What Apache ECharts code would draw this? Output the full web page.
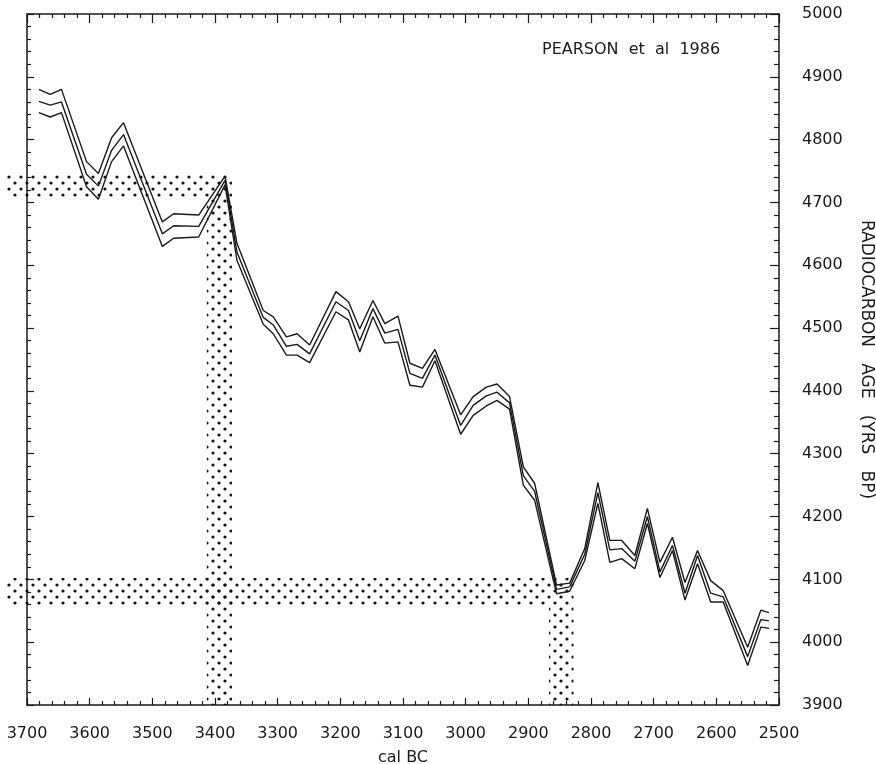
<!DOCTYPE html>
<html>
<head>
<meta charset="utf-8">
<script src="https://cdn.jsdelivr.net/npm/echarts@6/dist/echarts.min.js"></script>
<style>
html,body{margin:0;padding:0;background:#fff;}
#chart{width:876px;height:764px;}
</style>
</head>
<body>
<div id="chart"></div>
<script>
// calendar years (cal BC) of curve vertices
var years = [3681,3663,3645,3605,3586,3565,3546,3484,3466,3426,3384,3365,3323,3307,3286,3269,3249,3207,3187,3169,3148,3129,3108,3089,3069,3049,3008,2988,2967,2950,2930,2908,2890,2855,2834,2810,2789,2770,2751,2730,2710,2690,2670,2650,2630,2609,2589,2550,2529,2516];
// radiocarbon age (yrs BP): upper envelope, centre curve, lower envelope
var upper = [4880,4872,4880,4765,4746,4803,4827,4669,4682,4680,4742,4635,4528,4518,4486,4491,4473,4558,4542,4499,4544,4507,4519,4444,4436,4466,4362,4391,4406,4411,4391,4279,4253,4091,4094,4149,4254,4162,4162,4138,4213,4127,4167,4095,4146,4098,4082,3992,4051,4047];
var middle = [4861,4855,4860,4745,4726,4783,4808,4650,4663,4662,4735,4621,4517,4505,4471,4474,4459,4542,4528,4480,4531,4492,4498,4428,4420,4457,4345,4377,4392,4398,4381,4265,4240,4084,4088,4140,4238,4147,4149,4129,4200,4112,4154,4078,4138,4078,4072,3977,4036,4034];
var lower = [4843,4836,4843,4725,4705,4765,4790,4630,4643,4645,4728,4608,4506,4491,4457,4457,4445,4526,4513,4462,4518,4476,4478,4409,4406,4448,4331,4361,4376,4385,4371,4250,4226,4077,4081,4130,4221,4127,4133,4117,4189,4103,4146,4067,4125,4064,4064,3963,4024,4022];
// dotted bands: measured 14C ranges and resulting calendar ranges
var bandAges = [[4705,4745],[4058,4102]];
var bandYears = [[3413,3373],[2867,2828]];
var bandStartYear = 3735;
var xTicks = {min:2500, max:3700, step:100};
var yTicks = {min:3900, max:5000, step:100};

function pairs(ys){ return years.map(function(y,i){ return [y, ys[i]]; }); }

var bandRects = [];
bandAges.forEach(function(a,i){
  var yr = bandYears[i];
  bandRects.push([bandStartYear, yr[1], a[0], a[1]]);       // horizontal band
  bandRects.push([yr[0], yr[1], yTicks.min, a[0]]);          // vertical band
});

var pc = document.createElement('canvas');
pc.width = 12; pc.height = 12;
var c = pc.getContext('2d');
c.fillStyle = '#111';
[[3,3],[9,9]].forEach(function(p){ c.beginPath(); c.arc(p[0],p[1],1.6,0,Math.PI*2); c.fill(); });
var dotPattern = {image: pc, repeat: 'repeat'};

var FONT = 'DejaVu Sans';
var INK = '#1a1a1a';
function plain(v){ return String(v); }

function xAx(pos, labels){
  return {
    type:'value', position:pos, min:xTicks.min, max:xTicks.max, interval:xTicks.step, inverse:true,
    axisLine:{show:true, onZero:false, lineStyle:{color:INK, width:1.5}},
    axisTick:{show:true, inside:true, length: pos==='top'?9:7, lineStyle:{color:INK, width:1.2}},
    minorTick:{show:true, splitNumber:5, length:4, lineStyle:{color:INK, width:1.2}},
    splitLine:{show:false}, minorSplitLine:{show:false},
    axisLabel:{show:labels, margin:21, fontSize:16, color:INK, fontFamily:FONT, formatter:plain, showMinLabel:true, showMaxLabel:true},
    name: labels ? 'cal BC' : '', nameLocation:'middle', nameGap:45,
    nameTextStyle:{fontSize:16, color:INK, fontFamily:FONT}
  };
}
function yAx(pos, labels){
  return {
    type:'value', position:pos, min:yTicks.min, max:yTicks.max, interval:yTicks.step,
    axisLine:{show:true, onZero:false, lineStyle:{color:INK, width:1.5}},
    axisTick:{show:true, inside:true, length: pos==='right'?9:7, lineStyle:{color:INK, width:1.2}},
    minorTick:{show:true, splitNumber:5, length: pos==='right'?5:4, lineStyle:{color:INK, width:1.2}},
    splitLine:{show:false}, minorSplitLine:{show:false},
    axisLabel:{show:labels, margin:23, fontSize:16, color:INK, fontFamily:FONT, formatter:plain, showMinLabel:true, showMaxLabel:true},
    name: labels ? 'RADIOCARBON   AGE   (YRS   BP)' : '', nameLocation:'middle', nameGap:79, nameRotate:-90,
    nameTextStyle:{fontSize:17, color:INK, fontFamily:FONT}
  };
}

var lineStyle = {color:INK, width:1.4};
var chart = echarts.init(document.getElementById('chart'), null, {renderer:'canvas'});
chart.setOption({
  backgroundColor:'#fff',
  animation:false,
  title:{text:'PEARSON  et  al  1986', left:537, top:37, textStyle:{fontSize:16, fontWeight:'normal', color:INK, fontFamily:FONT}},
  grid:{left:27, right:97, top:14, bottom:59, containLabel:false, outerBoundsMode:'none'},
  xAxis:[xAx('bottom', true), xAx('top', false)],
  yAxis:[yAx('right', true), yAx('left', false)],
  series:[
    {type:'custom', xAxisIndex:0, yAxisIndex:0, clip:false, silent:true, z:1,
     data:bandRects,
     renderItem:function(params, api){
       var p1 = api.coord([api.value(0), api.value(3)]);
       var p2 = api.coord([api.value(1), api.value(2)]);
       return {type:'rect', shape:{x:Math.min(p1[0],p2[0]), y:Math.min(p1[1],p2[1]), width:Math.abs(p2[0]-p1[0]), height:Math.abs(p2[1]-p1[1])},
               style:{fill:dotPattern, stroke:null}};
     }},
    {type:'line', name:'upper', data:pairs(upper), symbol:'none', lineStyle:lineStyle, z:3},
    {type:'line', name:'middle', data:pairs(middle), symbol:'none', lineStyle:lineStyle, z:3},
    {type:'line', name:'lower', data:pairs(lower), symbol:'none', lineStyle:lineStyle, z:3}
  ]
});
</script>
</body>
</html>
